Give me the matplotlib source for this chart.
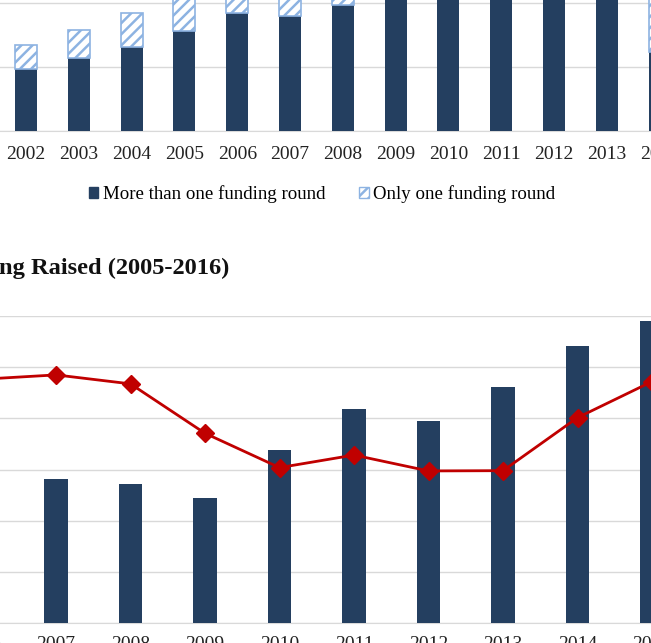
import matplotlib
matplotlib.use("Agg")
import matplotlib.pyplot as plt
from matplotlib.patches import Patch

plt.rcParams['font.family'] = ['Liberation Serif', 'DejaVu Serif']
plt.rcParams['hatch.linewidth'] = 1.8

# ---- top panel data ----
years_top = [2002, 2003, 2004, 2005, 2006, 2007, 2008, 2009, 2010, 2011, 2012, 2013, 2014]
multi_round = [97, 114, 131, 156, 184, 180, 197, 260, 280, 300, 310, 290, 123]
single_round = [37, 44, 53, 60, 50, 50, 45, 45, 40, 40, 40, 40, 130]

# ---- bottom panel data ----
years_bot = [2005, 2006, 2007, 2008, 2009, 2010, 2011, 2012, 2013, 2014, 2015, 2016]
deals = [1200, 1350, 1412, 1357, 1221, 1693, 2093, 1979, 2308, 2711, 2949, 2800]
median_funding = [9.2, 9.53, 9.70, 9.35, 7.42, 6.08, 6.57, 5.95, 5.96, 8.03, 9.44, 10.0]

NAVY = '#243f60'
HATCH = '#8db3e2'
GRID = '#d9d9d9'
RED = '#c00000'

W, H = 651, 643
fig = plt.figure(figsize=(W / 100, H / 100), dpi=100)

def pos(left, top, width, height):
    return [left / W, 1 - (top + height) / H, width / W, height / H]

# top axes
ax1 = fig.add_axes(pos(-53.2, -125, 844.8, 256))
ax1.bar(years_top, multi_round, width=0.42, color=NAVY, zorder=3)
ax1.bar(years_top, single_round, width=0.42, bottom=multi_round, color='white',
        edgecolor=HATCH, hatch='///', linewidth=1.2, zorder=3)
ax1.set_xlim(2000.5, 2016.5)
ax1.set_ylim(0, 400)
ax1.set_yticks([0, 100, 200, 300, 400])
ax1.set_xticks(years_top)
ax1.set_xticklabels([str(y) for y in years_top])
ax1.grid(axis='y', color=GRID, linewidth=1, zorder=0)
for s in ['top', 'left', 'right']:
    ax1.spines[s].set_visible(False)
ax1.spines['bottom'].set_color(GRID)
ax1.tick_params(axis='x', length=0, pad=11, labelsize=14, colors='#222222')
ax1.tick_params(axis='y', length=0, labelleft=False)

handles = [Patch(facecolor=NAVY, edgecolor=NAVY),
           Patch(facecolor='white', edgecolor=HATCH, hatch='///')]
fig.legend(handles, ['More than one funding round', 'Only one funding round'],
           loc='center', bbox_to_anchor=(322 / W, 1 - 194 / H), ncol=2, frameon=False,
           fontsize=13.6, handlelength=0.5, handleheight=0.5, handletextpad=0.25,
           columnspacing=1.8)

# title (visible part)
fig.text(-1 / W, 1 - 268 / H, 'ng Raised (2005-2016)', fontsize=17.6, fontweight='bold',
         ha='left', va='center', color='#111111')

# bottom axes
ax2 = fig.add_axes(pos(-130.25, 316, 894, 307.3))
ax2.bar(years_bot, deals, width=0.31, color=NAVY, zorder=3)
ax2.set_xlim(2004.5, 2016.5)
ax2.set_ylim(0, 3000)
ax2.set_yticks(range(0, 3001, 500))
ax2.set_xticks(years_bot)
ax2.set_xticklabels([str(y) for y in years_bot])
ax2.grid(axis='y', color=GRID, linewidth=1, zorder=0)
for s in ['top', 'left', 'right']:
    ax2.spines[s].set_visible(False)
ax2.spines['bottom'].set_color(GRID)
ax2.tick_params(axis='x', length=0, pad=9, labelsize=14, colors='#222222')
ax2.tick_params(axis='y', length=0, labelleft=False)

ax3 = ax2.twinx()
ax3.plot(years_bot, median_funding, color=RED, linewidth=2, marker='D',
         markersize=9.5, zorder=5)
ax3.set_ylim(0, 12)
ax3.set_yticks([])
for s in ax3.spines.values():
    s.set_visible(False)

fig.savefig('out.png', dpi=100)
